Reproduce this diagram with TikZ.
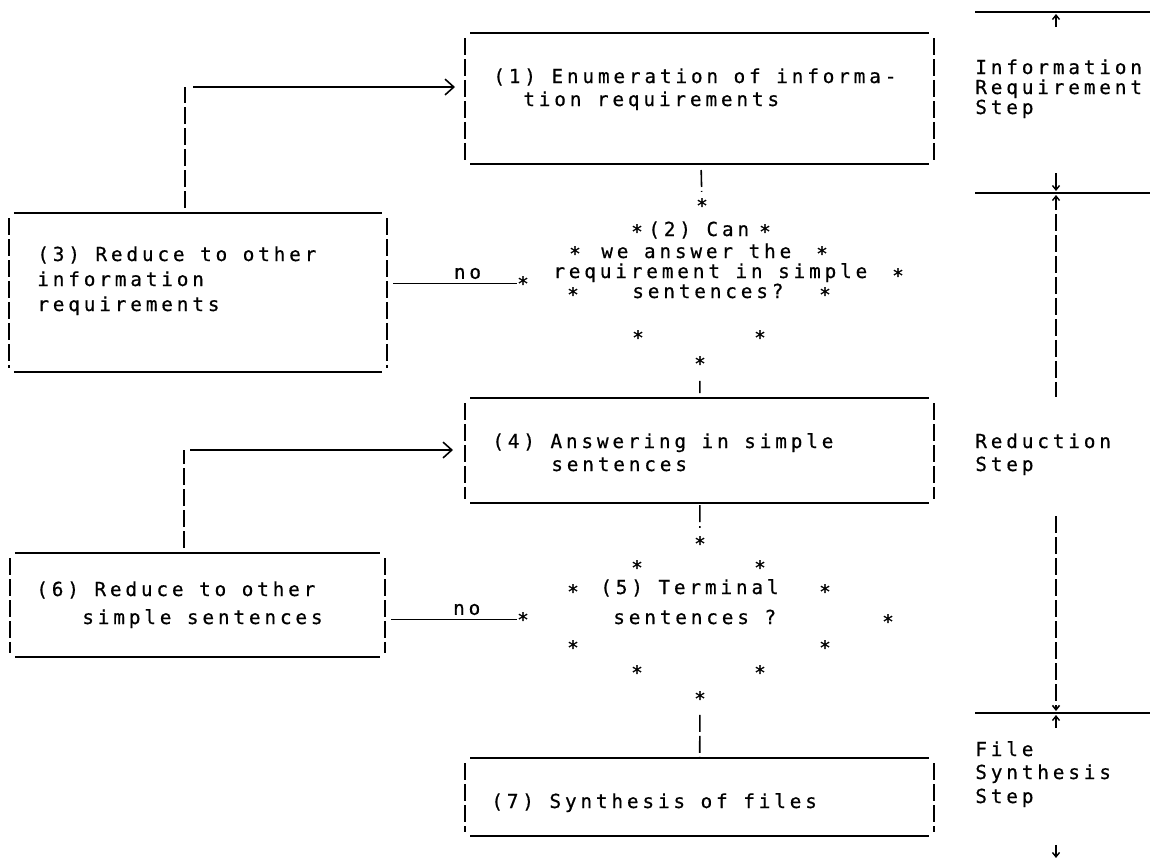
\documentclass[tikz,border=0pt]{standalone}
\usepackage{fontspec}
\usetikzlibrary{arrows.meta,fit}
\newfontfamily\typewr[LetterSpace=20,FakeBold=0.6]{DejaVu Sans Mono}
\newcommand{\typefont}{\typewr\fontsize{11pt}{13pt}\selectfont}

\begin{document}
\begin{tikzpicture}[x=0.02cm,y=-0.02cm,
    hline/.style={line width=0.9pt},
    vline/.style={line width=0.9pt,dash pattern=on 0.34cm off 0.08cm},
    tbox/.style={inner sep=0pt,outer sep=0pt,
        append after command={
            (\tikzlastnode.north west) edge[hline,shorten <=0.1cm,shorten >=0.1cm] (\tikzlastnode.north east)
            (\tikzlastnode.south west) edge[hline,shorten <=0.1cm,shorten >=0.1cm] (\tikzlastnode.south east)
            (\tikzlastnode.north west) edge[vline,shorten <=0.1cm,shorten >=0.08cm] (\tikzlastnode.south west)
            (\tikzlastnode.north east) edge[vline,shorten <=0.1cm,shorten >=0.08cm] (\tikzlastnode.south east)}},
    txt/.style={font=\typefont,inner sep=0pt,anchor=base west,yshift=-0.12cm},
    ast/.style={font=\typefont,inner sep=0pt,anchor=base,yshift=-0.25cm},
    lbl/.style={font=\typefont,inner sep=2pt},
    loop/.style={hline,-{Straight Barb[length=5pt,width=9pt]}},
    tick/.style={line width=0.8pt,-{Straight Barb[length=2.5pt,width=4pt]}}
]
    \path[use as bounding box,fill=white] (0,0) rectangle (1150,860);

    \node[tbox,fit={(465,33) (934,164)}] (b1) {};
    \node[tbox,fit={(9,213) (387,372)}] (b3) {};
    \node[tbox,fit={(465,398) (934,503)}] (b4) {};
    \node[tbox,fit={(10,553) (385,657)}] (b6) {};
    \node[tbox,fit={(465,758) (934,836)}] (b7) {};

    \node[txt] (t1a) at (493,77) {(1) Enumeration of informa-};
    \node[txt] (t1b) at (523,100) {tion requirements};
    \node[txt] (t3a) at (37,255) {(3) Reduce to other};
    \node[txt] (t3b) at (37,280) {information};
    \node[txt] (t3c) at (37,305) {requirements};
    \node[txt] (t4a) at (492,442) {(4) Answering in simple};
    \node[txt] (t4b) at (551,465) {sentences};
    \node[txt] (t6a) at (36,590) {(6) Reduce to other};
    \node[txt] (t6b) at (82,618) {simple sentences};
    \node[txt] (t7) at (491,802) {(7) Synthesis of files};

    \node[ast] (s2t) at (702,200) {*};
    \node[ast] (s2l) at (523,278) {*};
    \node[ast] (s2b) at (700,358) {*};
    \foreach \x/\y [count=\i] in {637/226,765/226,575/248,822/248,898/270,573/289,825/289,638/332,760/332}
        \node[ast] (s2\i) at (\x,\y) {*};
    \node[txt] (d2a) at (648,230) {(2) Can};
    \node[txt] (d2b) at (601,252) {we answer the};
    \node[txt] (d2c) at (553,272) {requirement in simple};
    \node[txt] (d2d) at (632,292) {sentences?};

    \node[ast] (s5t) at (700,538) {*};
    \node[ast] (s5l) at (523,614) {*};
    \node[ast] (s5b) at (700,693) {*};
    \foreach \x/\y [count=\i] in {637/562,760/562,573/586,825/586,888/616,573/642,825/642,637/667,760/667}
        \node[ast] (s5\i) at (\x,\y) {*};
    \node[txt] (d5a) at (600,588) {(5) Terminal};
    \node[txt] (d5b) at (613,618) {sentences ?};

    \draw[vline,shorten <=0.12cm,shorten >=0.12cm] (b1) -- (s2t);
    \draw[vline,shorten <=0.2cm,shorten >=0.1cm] (s2b) -- (b4);
    \draw[vline,shorten <=0.04cm,shorten >=0.16cm] (b4) -- (s5t);
    \draw[vline,shorten <=0.18cm,shorten >=0.02cm] (s5b) -- (b7);

    \draw[hline,shorten <=0.12cm] (b3.east |- s2l.west) -- node[lbl,above,pos=0.62] (no1) {no} (s2l.west);
    \draw[hline,shorten <=0.12cm] (b6.east |- s5l.west) -- node[lbl,above,pos=0.62] (no2) {no} (s5l.west);

    \coordinate (k1) at (185,87);
    \coordinate (k2) at (184,450);
    \draw[vline,shorten <=0.1cm] (b3.north -| k1) -- (k1);
    \draw[loop,shorten <=0.16cm,shorten >=0.2cm] (k1) -- (b1.west |- k1);
    \draw[vline,shorten <=0.1cm] (b6.north -| k2) -- (k2);
    \draw[loop,shorten <=0.12cm,shorten >=0.24cm] (k2) -- (b4.west |- k2);

    \node[txt] (ri1) at (975,68) {Information};
    \node[txt] (ri2) at (975,88) {Requirement};
    \node[txt] (ri3) at (975,108) {Step};
    \node[txt] (rr1) at (975,442) {Reduction};
    \node[txt] (rr2) at (975,465) {Step};
    \node[txt] (rf1) at (975,750) {File};
    \node[txt] (rf2) at (975,773) {Synthesis};
    \node[txt] (rf3) at (975,797) {Step};

    \coordinate (ir) at (1056,12);
    \coordinate (rr) at (1056,193);
    \coordinate (fr) at (1056,713);
    \foreach \r in {ir,rr,fr}
        \draw[hline] ([xshift=-1.62cm]\r) -- ([xshift=1.88cm]\r);
    \draw[tick] ([yshift=-0.3cm]ir) -- ([yshift=-0.04cm]ir);
    \draw[tick] ([yshift=0.4cm]rr) -- ([yshift=0.04cm]rr);
    \draw[tick] ([yshift=-0.34cm]rr) -- ([yshift=-0.04cm]rr);
    \draw[vline] ([yshift=-0.42cm]rr) -- ++(0,183);
    \draw[vline,-{Straight Barb[length=2.5pt,width=4pt]}] ([yshift=3.94cm]fr) -- ([yshift=0.04cm]fr);
    \draw[tick] ([yshift=-0.3cm]fr) -- ([yshift=-0.04cm]fr);
    \draw[tick] ([yshift=-2.64cm]fr) -- ([yshift=-2.9cm]fr);
\end{tikzpicture}
\end{document}
